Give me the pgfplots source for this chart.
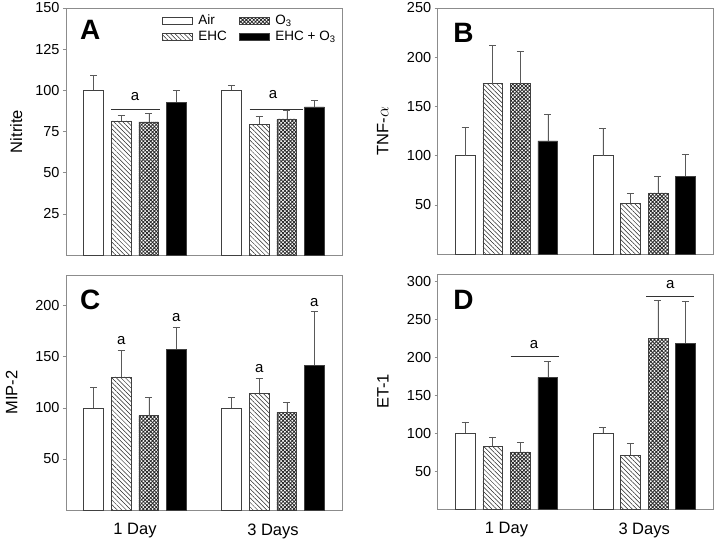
\documentclass[border=0pt]{standalone}
\usepackage{fontspec}
\setmainfont{Liberation Sans}
\usepackage{pgfplots}
\pgfplotsset{compat=1.18}
\usetikzlibrary{patterns.meta}

\definecolor{framegray}{gray}{0.55}
\definecolor{errgray}{gray}{0.35}

\pgfplotsset{
  panel/.style={
    scale only axis,
    xmin=0.5, xmax=2.5, ymin=0,
    clip=false,
    axis line style={framegray, line width=0.6pt},
    ytick pos=left,
    tick align=outside,
    major tick length=3bp,
    y tick style={framegray, line width=0.5pt},
    x tick style={draw=none},
    xtick={1,2},
    xticklabels={},
    /pgf/number format/assume math mode=true,
    yticklabel style={font=\fontsize{14.5bp}{16bp}\selectfont},
    xticklabel style={font=\fontsize{16.5bp}{18bp}\selectfont, yshift=-7bp},
    ylabel style={font=\fontsize{16.5bp}{18bp}\selectfont, anchor=center},
    legend image code/.code={\draw[##1, line width=0.5pt] (0bp,-3.5bp) rectangle (30bp,3.5bp);},
  },
  mybar/.style={
    ybar, bar width=0.144, bar shift=0pt,
    draw=black!75, line width=0.5pt,
    error bars/y dir=plus,
    error bars/y explicit,
    error bars/error bar style={errgray, line width=0.6pt},
    error bars/error mark options={errgray, line width=0.6pt, mark size=3.5bp, rotate=90},
  },
  airbar/.style={mybar, fill=white},
  ehcbar/.style={mybar, pattern={Lines[angle=-45, distance=3.2bp, line width=0.5pt]}, pattern color=black!85},
  ozbar/.style={mybar, pattern={Hatch[angle=45, distance=2.6bp, line width=0.8pt]}, pattern color=black!85},
  blkbar/.style={mybar, fill=black},
}

\newcommand{\letterfont}{\bfseries\fontsize{28bp}{28bp}\selectfont}
\newcommand{\afont}{\fontsize{15bp}{17bp}\selectfont}

\begin{document}
\begin{tikzpicture}
\path[use as bounding box] (0,0) rectangle (720bp,542bp);

% ---------------- Panel A ----------------
\begin{axis}[panel,
  at={(66bp,287bp)}, anchor=south west,
  width=276bp, height=247bp,
  ymax=150, ytick={25,50,75,100,125,150},
  ylabel={Nitrite},
  ylabel style={at={(axis description cs:-0.18,0.5)}},
  legend columns=2,
  legend cell align=left,
  legend style={at={(rel axis cs:0.347,0.977)}, anchor=north west, draw=none, fill=none,
    font=\fontsize{13.5bp}{15bp}\selectfont, inner sep=0pt,
    nodes={inner xsep=1bp, inner ysep=1bp},
    /tikz/every even column/.append style={column sep=11bp},
    row sep=3bp},
]
\addplot[airbar] coordinates {(0.7,100) +- (0,9.1) (1.7,100) +- (0,3.0)};
\addlegendentry{\hspace{5bp}Air}
\addplot[ozbar] coordinates {(1.1,80.8) +- (0,5.0) (2.1,82.6) +- (0,5.5)};
\addlegendentry{\hspace{5bp}O\textsubscript{3}}
\addplot[ehcbar] coordinates {(0.9,81.4) +- (0,3.6) (1.9,79.4) +- (0,4.8)};
\addlegendentry{\hspace{5bp}EHC}
\addplot[blkbar] coordinates {(1.3,92.9) +- (0,7.1) (2.3,89.9) +- (0,4.2)};
\addlegendentry{\hspace{5bp}EHC + O\textsubscript{3}}
\draw[black!80, line width=0.6pt] (axis cs:0.829,88.7) -- (axis cs:1.178,88.7);
\draw[black!80, line width=0.6pt] (axis cs:1.831,88.7) -- (axis cs:2.215,88.7);
\node[font=\afont] at (axis cs:1.0,96.5) {a};
\node[font=\afont] at (axis cs:2.0,97.5) {a};
\node[font=\letterfont, anchor=north west, inner sep=0pt] at (rel axis cs:0.05,0.951) {A};
\end{axis}

% ---------------- Panel B ----------------
\begin{axis}[panel,
  at={(437.7bp,288bp)}, anchor=south west,
  width=275.3bp, height=246bp,
  ymax=250, ytick={50,100,150,200,250},
  ylabel={TNF-$\alpha$},
  ylabel style={at={(axis description cs:-0.2,0.5)}},
]
\addplot[airbar] coordinates {(0.7,100) +- (0,28.5) (1.7,100) +- (0,27.5)};
\addplot[ehcbar] coordinates {(0.9,173.2) +- (0,38.7) (1.9,51.5) +- (0,9.9)};
\addplot[ozbar] coordinates {(1.1,173.2) +- (0,32.6) (2.1,62.0) +- (0,16.6)};
\addplot[blkbar] coordinates {(1.3,114.9) +- (0,27.5) (2.3,79.0) +- (0,22.0)};
\node[font=\letterfont, anchor=north west, inner sep=0pt] at (rel axis cs:0.056,0.939) {B};
\end{axis}

% ---------------- Panel C ----------------
\begin{axis}[panel,
  at={(66bp,32bp)}, anchor=south west,
  width=276bp, height=235bp,
  ymax=230, ytick={50,100,150,200},
  xticklabels={1 Day,3 Days},
  ylabel={MIP-2},
  ylabel style={at={(axis description cs:-0.197,0.5)}},
]
\addplot[airbar] coordinates {(0.7,100) +- (0,20.0) (1.7,100) +- (0,10.5)};
\addplot[ehcbar] coordinates {(0.9,130.4) +- (0,26.1) (1.9,114.1) +- (0,15.0)};
\addplot[ozbar] coordinates {(1.1,92.3) +- (0,18.2) (2.1,95.2) +- (0,10.4)};
\addplot[blkbar] coordinates {(1.3,157.2) +- (0,21.5) (2.3,141.8) +- (0,52.5)};
\node[font=\afont] at (axis cs:0.9,166) {a};
\node[font=\afont] at (axis cs:1.3,188.8) {a};
\node[font=\afont] at (axis cs:1.9,138.9) {a};
\node[font=\afont] at (axis cs:2.3,203) {a};
\node[font=\letterfont, anchor=north west, inner sep=0pt] at (rel axis cs:0.05,0.936) {C};
\end{axis}

% ---------------- Panel D ----------------
\begin{axis}[panel,
  at={(437.7bp,33bp)}, anchor=south west,
  width=275.3bp, height=235bp,
  ymax=310, ytick={50,100,150,200,250,300},
  xticklabels={1 Day,3 Days},
  ylabel={ET-1},
  ylabel style={at={(axis description cs:-0.199,0.5)}},
]
\addplot[airbar] coordinates {(0.7,100) +- (0,14.8) (1.7,100) +- (0,8.2)};
\addplot[ehcbar] coordinates {(0.9,82.6) +- (0,12.4) (1.9,70.7) +- (0,16.3)};
\addplot[ozbar] coordinates {(1.1,75.5) +- (0,12.8) (2.1,225.3) +- (0,49.9)};
\addplot[blkbar] coordinates {(1.3,173.6) +- (0,20.7) (2.3,218.6) +- (0,54.8)};
\draw[black!80, line width=0.6pt] (axis cs:1.03,201.9) -- (axis cs:1.38,201.9);
\draw[black!80, line width=0.6pt] (axis cs:2.015,280.5) -- (axis cs:2.36,280.5);
\node[font=\afont] at (axis cs:1.2,217.3) {a};
\node[font=\afont] at (axis cs:2.19,295.5) {a};
\node[font=\letterfont, anchor=north west, inner sep=0pt] at (rel axis cs:0.056,0.93) {D};
\end{axis}
\end{tikzpicture}
\end{document}
